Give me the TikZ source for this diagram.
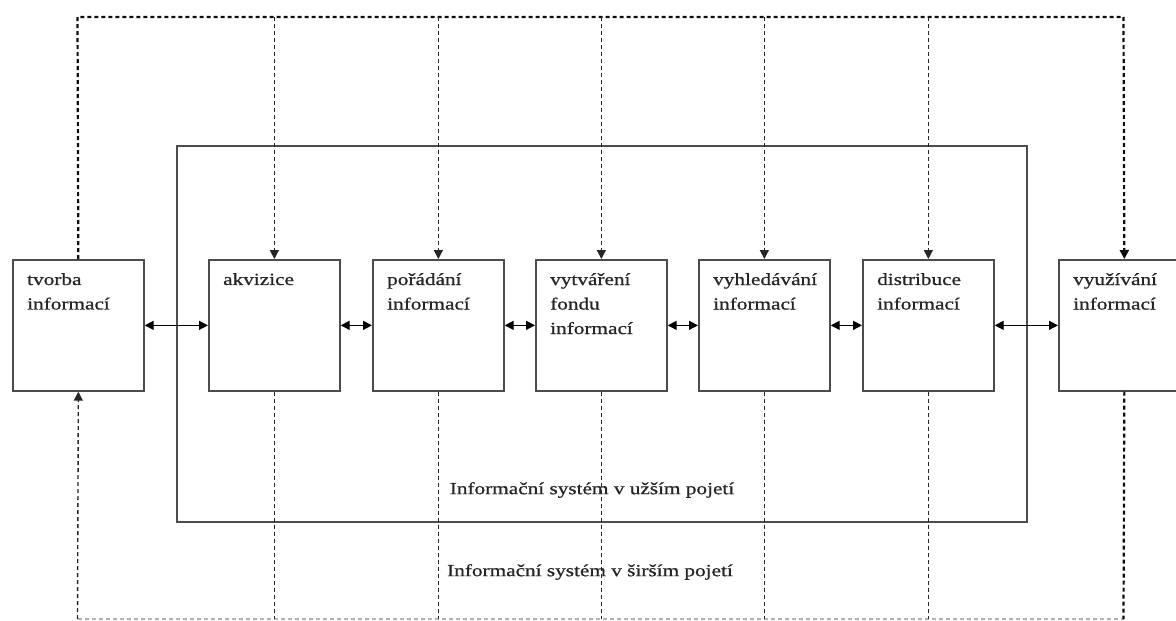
\documentclass[tikz,border=0pt]{standalone}
\usepackage{fontspec}
\setmainfont{Liberation Serif}[FakeStretch=1.25,FakeBold=0.8]
\usetikzlibrary{arrows.meta}
\begin{document}
\begin{tikzpicture}[x=1pt,y=-1pt,
  box/.style={draw=black!70, line width=1.7pt, minimum width=131pt, minimum height=131pt, inner sep=0pt, anchor=north west},
  lbl/.style={anchor=north west, inner sep=0pt, align=left, font=\fontsize{17}{24.5}\selectfont, text=black!85},
  captext/.style={inner sep=0pt, font=\fontsize{17}{20}\selectfont, text=black!85},
  flow/.style={black, line width=1.4pt, {Triangle[length=9pt,width=9pt]}-{Triangle[length=9pt,width=9pt]}},
  ctl/.style={black!85, line width=1.4pt, dash pattern=on 4pt off 3pt},
  ctlthick/.style={black!95, line width=2.2pt, dash pattern=on 4pt off 3pt},
  tip/.style={-{Triangle[length=9pt,width=9pt]}},
  faint/.style={black!30, line width=1.2pt, dash pattern=on 4pt off 3pt}]
\useasboundingbox (0,0) rectangle (1176,621);
\clip (0,0) rectangle (1176,621);

% outer frame (narrow sense)
\node[draw=black!70, line width=1.7pt, minimum width=850pt, minimum height=376pt, inner sep=0pt, anchor=north west] (frame) at (176,145) {};

% boxes
\node[box] (tv) at (12,259) {};
\node[box] (ak) at (208,259) {};
\node[box] (po) at (372,259) {};
\node[box] (vy) at (535,259) {};
\node[box] (vh) at (698,259) {};
\node[box] (di) at (862,259) {};
\node[box] (vu) at (1058,259) {};

% box texts
\node[lbl] (tvt) at (27,273) {tvorba\\informací};
\node[lbl] (akt) at (223,273) {akvizice};
\node[lbl] (pot) at (387,273) {pořádání\\informací};
\node[lbl] (vyt) at (550,273) {vytváření\\fondu\\informací};
\node[lbl] (vht) at (713,273) {vyhledávání\\informací};
\node[lbl] (dit) at (877,273) {distribuce\\informací};
\node[lbl] (vut) at (1073,273) {využívání\\informací};

% captions
\node[captext] (c1) at (592,490) {Informační systém v užším pojetí};
\node[captext] (c2) at (590,572) {Informační systém v širším pojetí};

% flow arrows
\draw[flow] (tv.east) -- (ak.west);
\draw[flow] (ak.east) -- (po.west);
\draw[flow] (po.east) -- (vy.west);
\draw[flow] (vy.east) -- (vh.west);
\draw[flow] (vh.east) -- (di.west);
\draw[flow] (di.east) -- (vu.west);

% top dashed control
\coordinate (tl) at (77.5,17);
\coordinate (tr) at (1123.5,17);
\draw[ctlthick] (tv.north) -- (tl) -- (tr);
\draw[ctl,tip] (ak.north |- tl) -- (ak.north);
\draw[ctl,tip] (po.north |- tl) -- (po.north);
\draw[ctl,tip] (vy.north |- tl) -- (vy.north);
\draw[ctl,tip] (vh.north |- tl) -- (vh.north);
\draw[ctl,tip] (di.north |- tl) -- (di.north);
\draw[ctlthick,tip] (tr) -- (vu.north);

% bottom dashed feedback
\coordinate (bl) at (77.5,619);
\coordinate (br) at (1123.5,619);
\draw[faint] (bl) -- (br);
\draw[ctl,tip] (bl) -- (tv.south);
\draw[ctl] (ak.south) -- (ak.south |- bl);
\draw[ctl] (po.south) -- (po.south |- bl);
\draw[ctl] (vy.south) -- (vy.south |- bl);
\draw[ctl] (vh.south) -- (vh.south |- bl);
\draw[ctl] (di.south) -- (di.south |- bl);
\draw[ctlthick] (vu.south) -- (br);
\end{tikzpicture}
\end{document}
